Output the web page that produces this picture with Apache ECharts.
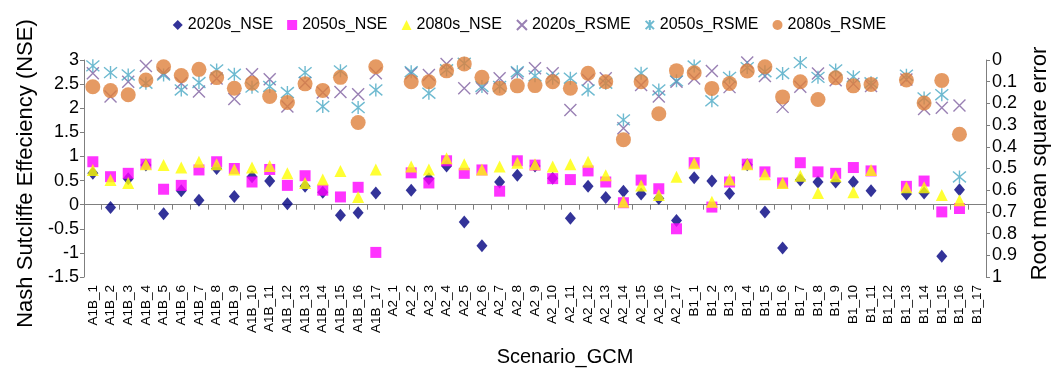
<!DOCTYPE html>
<html>
<head>
<meta charset="utf-8">
<script src="https://cdn.jsdelivr.net/npm/echarts@6/dist/echarts.min.js"></script>
<style>
  html, body { margin: 0; padding: 0; background: #fff; }
  #chart { width: 1059px; height: 375px; }
</style>
</head>
<body>
<div id="chart"></div>
<script>
// Scenario / GCM combinations on the category axis
const scenarios = ['A1B', 'A2', 'B1'];
const gcmCount = 17;
const categories = [];
scenarios.forEach(s => { for (let i = 1; i <= gcmCount; i++) categories.push(s + '_' + i); });

// Nash Sutcliffe Efficiency per period (A1B_1..17, A2_1..17, B1_1..17)
const nse2020 = [
  0.65, -0.06, 0.54, 0.82, -0.19, 0.29, 0.09, 0.75, 0.17, 0.58, 0.49, 0.02, 0.38, 0.26, -0.22, -0.17, 0.24,
  null, 0.30, 0.54, 0.80, -0.36, -0.85, 0.47, 0.61, 0.80, 0.55, -0.28, 0.38, 0.15, 0.28, 0.22, 0.13, -0.33,
  0.56, 0.49, 0.23, 0.83, -0.15, -0.90, 0.51, 0.47, 0.47, 0.47, 0.29, null, 0.22, 0.24, -1.07, 0.31, null
];
const nse2050 = [
  0.89, 0.58, 0.65, 0.84, 0.32, 0.40, 0.72, 0.89, 0.75, 0.47, 0.73, 0.40, 0.60, 0.30, 0.16, 0.36, -0.99,
  null, 0.66, 0.45, 0.91, 0.65, 0.72, 0.28, 0.91, 0.82, 0.54, 0.52, 0.70, 0.47, 0.04, 0.51, 0.33, -0.50,
  0.87, -0.05, 0.47, 0.84, 0.68, 0.45, 0.87, 0.68, 0.65, 0.77, 0.70, null, 0.38, 0.49, -0.15, -0.08, null
];
const nse2080 = [
  0.72, 0.51, 0.45, 0.84, 0.82, 0.77, 0.89, 0.84, 0.73, 0.77, 0.80, 0.65, 0.45, 0.52, 0.70, 0.16, 0.73,
  null, 0.79, 0.73, 0.96, 0.84, 0.73, 0.79, 0.87, 0.84, 0.79, 0.84, 0.89, 0.61, 0.06, 0.40, 0.20, 0.58,
  0.86, 0.06, 0.52, 0.84, 0.63, 0.45, 0.60, 0.24, 0.59, 0.26, 0.72, null, 0.36, 0.36, 0.20, 0.09, null
];

// Root mean square error per period (right axis, inverted)
const rmse2020 = [
  0.061, 0.168, 0.100, 0.028, 0.061, 0.107, 0.145, 0.085, 0.180, 0.066, 0.089, 0.214, 0.105, 0.150, 0.148, 0.158, 0.061,
  null, 0.061, 0.069, 0.018, 0.130, 0.130, 0.084, 0.061, 0.038, 0.061, 0.230, 0.092, 0.084, 0.314, 0.115, 0.168, 0.100,
  0.085, 0.051, 0.125, 0.012, 0.074, 0.216, 0.123, 0.062, 0.093, 0.110, 0.120, null, 0.090, 0.226, 0.220, 0.210, null
];
const rmse2050 = [
  0.027, 0.058, 0.069, 0.107, 0.069, 0.138, 0.104, 0.046, 0.066, 0.125, 0.122, 0.150, 0.058, 0.214, 0.050, 0.219, 0.138,
  null, 0.054, 0.153, 0.045, 0.015, 0.122, 0.122, 0.054, 0.073, 0.084, 0.084, 0.138, 0.107, 0.276, 0.061, 0.138, 0.096,
  0.028, 0.188, 0.080, 0.035, 0.054, 0.062, 0.012, 0.080, 0.046, 0.077, 0.105, null, 0.070, 0.175, 0.160, 0.539, null
];
const rmse2080 = [
  0.123, 0.141, 0.160, 0.092, 0.031, 0.072, 0.043, 0.081, 0.130, 0.107, 0.168, 0.196, 0.110, 0.140, 0.080, 0.288, 0.031,
  null, 0.100, 0.100, 0.050, 0.018, 0.080, 0.130, 0.119, 0.118, 0.100, 0.130, 0.061, 0.100, 0.367, 0.100, 0.248, 0.049,
  0.059, 0.131, 0.108, 0.051, 0.031, 0.170, 0.100, 0.182, 0.082, 0.119, 0.113, null, 0.092, 0.198, 0.094, 0.342, null
];

const FONT = 'Liberation Sans, Arial, sans-serif';
const AXIS_GREY = '#7f7f7f';

// Stroke-only marker outlines: an "x" and an asterisk
const crossPath = 'path://M0,0L10,10M10,0L0,10';
const starPath = 'path://M0,0L10,10M10,0L0,10M5,-1L5,11';

function strokeSeries(name, data, color, path, size) {
  return {
    name, type: 'scatter', yAxisIndex: 1, data,
    symbol: path, symbolSize: size,
    itemStyle: { color: 'rgba(0,0,0,0)', borderColor: color, borderWidth: 1.4 },
    z: 3
  };
}

const chart = echarts.init(document.getElementById('chart'), null, { renderer: 'canvas' });
chart.setOption({
  animation: false,
  textStyle: { fontFamily: FONT },
  legend: {
    top: 12,
    left: 'center',
    padding: [5, 5, 5, 35],
    itemWidth: 10,
    itemHeight: 10,
    itemGap: 14,
    textStyle: { fontFamily: FONT, fontSize: 16, color: '#000' },
    data: ['2020s_NSE', '2050s_NSE', '2080s_NSE', '2020s_RSME', '2050s_RSME', '2080s_RSME']
  },
  grid: { left: 84, right: 65, top: 60, bottom: 98 },
  xAxis: {
    type: 'category',
    data: categories,
    name: 'Scenario_GCM',
    nameLocation: 'middle',
    nameGap: 70,
    nameTextStyle: { fontFamily: FONT, fontSize: 20, color: '#000', padding: [0, 0, 0, 60] },
    axisLine: { lineStyle: { color: AXIS_GREY } },
    axisTick: { show: true, length: 5, interval: 0, lineStyle: { color: AXIS_GREY } },
    axisLabel: { interval: 0, rotate: 90, fontSize: 13.5, color: '#000', margin: 8 },
    splitLine: { show: false }
  },
  yAxis: [
    {
      type: 'value', min: -1.5, max: 3, interval: 0.5,
      name: 'Nash Sutcliffe Effeciency (NSE)',
      nameLocation: 'middle', nameGap: 46, nameRotate: 90,
      nameTextStyle: { fontFamily: FONT, fontSize: 22, color: '#000', padding: [0, 10, 0, 0] },
      axisLine: { show: true, lineStyle: { color: AXIS_GREY } },
      axisTick: { show: true, length: 4, lineStyle: { color: AXIS_GREY } },
      axisLabel: { fontSize: 18, color: '#000', margin: 5 },
      splitLine: { show: false }
    },
    {
      type: 'value', min: 0, max: 1, interval: 0.1, inverse: true,
      position: 'right',
      name: 'Root mean square error',
      nameLocation: 'middle', nameGap: 43, nameRotate: 90,
      nameTextStyle: { fontFamily: FONT, fontSize: 22, color: '#000', padding: [0, 0, 0, 10] },
      axisLine: { show: true, lineStyle: { color: AXIS_GREY } },
      axisTick: { show: true, length: 4, lineStyle: { color: AXIS_GREY } },
      axisLabel: { fontSize: 18, color: '#000', margin: 6 },
      splitLine: { show: false }
    }
  ],
  series: [
    { name: '2020s_NSE', type: 'scatter', data: nse2020, symbol: 'diamond', symbolSize: [11, 13],
      itemStyle: { color: '#000080' }, z: 2 },
    { name: '2050s_NSE', type: 'scatter', data: nse2050, symbol: 'rect', symbolSize: 11,
      itemStyle: { color: '#ff00ff' }, z: 2 },
    { name: '2080s_NSE', type: 'scatter', data: nse2080, symbol: 'triangle', symbolSize: 12,
      itemStyle: { color: '#ffff00' }, z: 2 },
    strokeSeries('2020s_RSME', rmse2020, '#7f60a0', crossPath, 12),
    strokeSeries('2050s_RSME', rmse2050, '#4aa9c4', starPath, 13),
    { name: '2080s_RSME', type: 'scatter', yAxisIndex: 1, data: rmse2080, symbol: 'circle', symbolSize: 15,
      itemStyle: { color: '#de813c' }, z: 3 }
  ]
});
</script>
</body>
</html>
